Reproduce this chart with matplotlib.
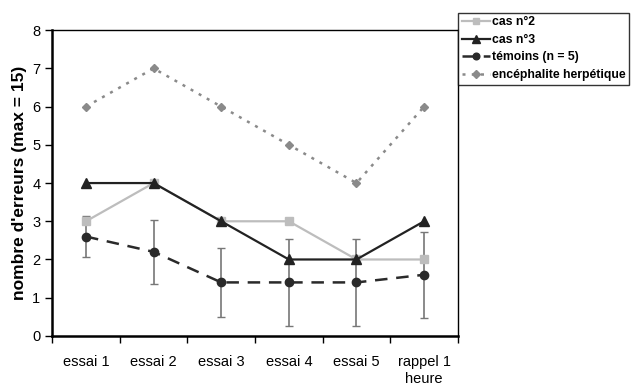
import matplotlib

matplotlib.use("Agg")
import matplotlib.pyplot as plt
import numpy as np

plt.rcParams["font.family"] = ["Liberation Sans", "DejaVu Sans"]

categories = ["essai 1", "essai 2", "essai 3", "essai 4", "essai 5", "rappel 1\nheure"]
cas2 = [3, 4, 3, 3, 2, 2]
cas3 = [4, 4, 3, 2, 2, 3]
temoins = [2.6, 2.2, 1.4, 1.4, 1.4, 1.6]
temoins_err = [0.54, 0.83, 0.9, 1.14, 1.14, 1.13]
encephalite = [6, 7, 6, 5, 4, 6]

x = np.arange(len(categories))

fig = plt.figure(figsize=(6.36, 3.87), dpi=100)
ax = fig.add_axes([0.082, 0.132, 0.638, 0.790])

ax.errorbar(x, temoins, yerr=temoins_err, fmt="none", ecolor="#777777",
            elinewidth=1.2, capsize=3, capthick=1.0, zorder=1)
ax.plot(x, cas2, color="#bdbdbd", marker="s", markersize=5.5, linewidth=1.6,
        label="cas n°2", zorder=2)
ax.plot(x, cas3, color="#222222", marker="^", markersize=6.5, linewidth=1.6,
        label="cas n°3", zorder=3)
ax.plot(x, temoins, color="#2a2a2a", marker="o", markersize=6, linewidth=1.8,
        linestyle=(0, (5, 3.5)), label="témoins (n = 5)", zorder=4)
ax.plot(x, encephalite, color="#8a8a8a", marker="D", markersize=4.5, linewidth=1.8,
        linestyle=(0, (1.2, 2.5)), label="encéphalite herpétique", zorder=2)

ax.set_xlim(-0.5, len(categories) - 0.5)
ax.set_ylim(0, 8)
ax.set_yticks(range(0, 9))
ax.set_xticks(np.arange(-0.5, len(categories), 1.0))
ax.set_xticklabels([])
ax.set_xticks(x, minor=True)
ax.set_xticklabels(categories, minor=True, fontsize=10.5)
ax.tick_params(axis="x", which="minor", length=0, pad=14)
ax.tick_params(axis="x", which="major", length=5, width=1.0, direction="out")
ax.tick_params(axis="y", length=5, width=1.0, direction="out", labelsize=10.5)
for s in ax.spines.values():
    s.set_linewidth(1.0)
ax.spines["left"].set_linewidth(1.8)
ax.spines["bottom"].set_linewidth(1.8)

ax.set_ylabel("nombre d'erreurs (max = 15)", fontsize=12.5, fontweight="bold", labelpad=4)

leg = ax.legend(loc="upper left", bbox_to_anchor=(1.0, 1.057), fontsize=8.8,
                frameon=True, fancybox=False, edgecolor="black", handlelength=2.3,
                handletextpad=0.2, borderpad=0.3, labelspacing=0.45,
                borderaxespad=0, markerscale=0.8)
leg.get_frame().set_linewidth(1.0)
for t in leg.get_texts():
    t.set_fontweight("bold")

fig.savefig("out.png", dpi=100)
